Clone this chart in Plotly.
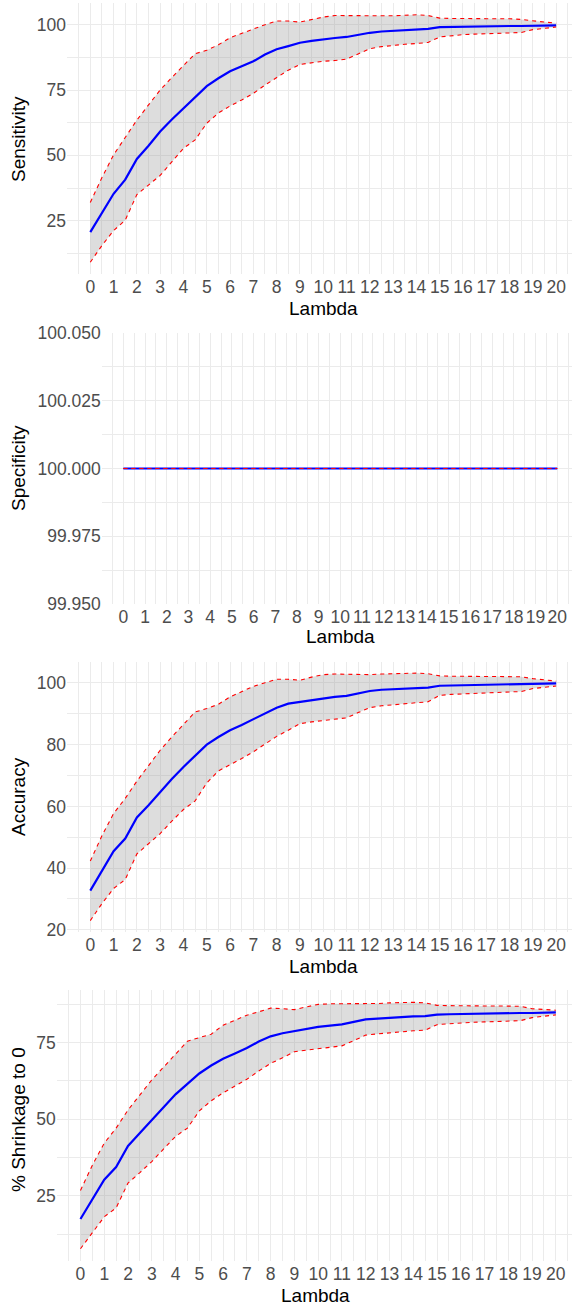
import plotly.graph_objects as go

W, H = 572, 1307

lam = [i * 0.5 for i in range(41)]

sens_mean = [20.6, 28.0, 35.3, 40.7, 48.6, 53.7, 59.1, 63.7, 68.0, 72.2, 76.5, 79.5, 82.2, 84.1, 86.0, 88.6,
             90.6, 91.8, 93.1, 93.8, 94.4, 94.9, 95.3, 96.1, 96.9, 97.4, 97.7, 98.0, 98.2, 98.4, 99.1, 99.2,
             99.3, 99.4, 99.5, 99.5, 99.5, 99.5, 99.6, 99.7, 99.7]
sens_upper = [32.0, 41.5, 50.2, 56.6, 63.5, 69.3, 75.0, 79.8, 84.5, 88.9, 90.2, 92.3, 95.0, 96.7, 98.5, 100.0,
              101.4, 101.4, 101.0, 102.0, 102.9, 103.5, 103.5, 103.4, 103.3, 103.4, 103.4, 103.6, 103.8, 103.5,
              102.5, 102.4, 102.3, 102.3, 102.3, 102.3, 102.3, 102.0, 101.4, 101.0, 100.6]
sens_lower = [9.1, 15.5, 21.2, 25.2, 35.0, 38.5, 42.3, 47.5, 52.7, 55.9, 62.3, 66.2, 68.9, 71.2, 73.7, 76.9,
              79.8, 82.6, 84.8, 85.5, 86.0, 86.3, 86.8, 88.8, 90.8, 91.6, 92.1, 92.5, 92.8, 93.2, 95.3, 95.8,
              96.2, 96.4, 96.6, 96.7, 96.8, 97.0, 98.1, 98.6, 99.1]

spec_mean = [100.0] * 41
spec_upper = [100.0] * 41
spec_lower = [100.0] * 41

acc_mean = [32.7, 39.3, 45.5, 49.6, 56.4, 60.4, 64.7, 68.9, 72.8, 76.3, 80.0, 82.5, 84.7, 86.4, 88.2, 90.2,
            92.0, 93.3, 93.9, 94.5, 95.1, 95.5, 95.8, 96.6, 97.4, 97.8, 98.0, 98.2, 98.4, 98.5, 99.1, 99.2,
            99.3, 99.4, 99.5, 99.5, 99.6, 99.6, 99.7, 99.8, 99.9]
acc_upper = [42.3, 50.5, 57.7, 62.6, 68.2, 73.4, 78.2, 82.5, 86.6, 90.6, 91.7, 93.1, 95.5, 97.2, 98.9, 100.1,
             101.2, 101.2, 100.9, 101.9, 102.7, 102.9, 102.8, 102.7, 102.7, 102.9, 103.0, 103.1, 103.2, 103.0,
             102.3, 102.2, 102.1, 102.1, 102.1, 102.1, 102.1, 102.0, 101.4, 101.0, 100.6]
acc_lower = [23.0, 28.5, 33.4, 36.3, 44.6, 47.8, 51.2, 55.2, 59.0, 61.8, 67.6, 71.5, 73.4, 75.5, 77.7, 80.3,
             82.7, 84.7, 86.8, 87.4, 87.9, 88.2, 88.7, 90.4, 92.0, 92.6, 93.0, 93.3, 93.6, 93.9, 96.0, 96.3,
             96.5, 96.7, 96.9, 97.0, 97.1, 97.2, 98.2, 98.6, 99.0]

shr_mean = [17.5, 24.0, 30.3, 34.4, 41.3, 45.5, 49.8, 54.0, 58.1, 61.5, 64.9, 67.5, 69.7, 71.4, 73.2, 75.3,
            77.0, 78.0, 78.7, 79.5, 80.1, 80.5, 80.9, 81.7, 82.5, 82.8, 83.1, 83.3, 83.5, 83.6, 84.1, 84.2,
            84.3, 84.4, 84.4, 84.5, 84.5, 84.6, 84.6, 84.7, 84.8]
shr_upper = [26.8, 35.0, 42.2, 47.1, 53.0, 58.0, 62.8, 67.0, 71.1, 75.4, 76.6, 77.7, 80.6, 82.2, 83.9, 85.0,
             86.2, 86.0, 85.7, 86.6, 87.4, 87.6, 87.6, 87.6, 87.6, 87.7, 87.9, 88.0, 88.1, 87.9, 87.1, 87.0,
             86.9, 86.9, 86.9, 86.9, 86.9, 86.8, 86.0, 85.7, 85.5]
shr_lower = [7.8, 13.2, 18.2, 21.1, 29.2, 32.6, 36.2, 40.3, 44.4, 47.1, 52.7, 56.0, 58.6, 60.8, 63.0, 65.7,
             68.2, 70.0, 72.0, 72.5, 73.0, 73.4, 73.9, 75.6, 77.4, 77.8, 78.2, 78.5, 78.8, 79.0, 80.8, 81.1,
             81.4, 81.6, 81.7, 81.9, 82.0, 82.1, 83.1, 83.6, 84.0]

x_ticks = list(range(21))
x_ticktext = [str(v) for v in x_ticks]

panels = [
    dict(name="Sensitivity", mean=sens_mean, up=sens_upper, lo=sens_lower,
         top=3, bot=274, left=67, yr=[4.6, 108.3], ytv=[25, 50, 75, 100], ytt=["25", "50", "75", "100"],
         ydt=12.5, y0=0, title_x=18, title_y=139, lam_y=308, lam_x=323),
    dict(name="Specificity", mean=spec_mean, up=spec_upper, lo=spec_lower,
         top=333, bot=604, left=101.7, yr=[99.95, 100.05],
         ytv=[99.95, 99.975, 100.0, 100.025, 100.05],
         ytt=["99.950", "99.975", "100.000", "100.025", "100.050"],
         ydt=0.0125, y0=99.95, title_x=18, title_y=468, lam_y=636, lam_x=340),
    dict(name="Accuracy", mean=acc_mean, up=acc_upper, lo=acc_lower,
         top=662, bot=932, left=67, yr=[19.3, 106.8], ytv=[20, 40, 60, 80, 100],
         ytt=["20", "40", "60", "80", "100"],
         ydt=10, y0=0, title_x=18, title_y=797, lam_y=966, lam_x=323),
    dict(name="% Shrinkage to 0", mean=shr_mean, up=shr_upper, lo=shr_lower,
         top=990, bot=1261, left=56.7, yr=[3.8, 92.1], ytv=[25, 50, 75], ytt=["25", "50", "75"],
         ydt=12.5, y0=0, title_x=18, title_y=1120, lam_y=1295, lam_x=316),
]

fig = go.Figure()
annotations = []
GRID = "#EBEBEB"
TICKC = "#4D4D4D"
FONT = "Liberation Sans, Arial, sans-serif"
X_MAX = 20.68

for i, p in enumerate(panels):
    n = "" if i == 0 else str(i + 1)
    xa, ya = "x" + n, "y" + n
    fig.add_trace(go.Scatter(x=lam, y=p["lo"], mode="lines", line=dict(width=0, color="rgba(0,0,0,0)"),
                             xaxis=xa, yaxis=ya, showlegend=False, hoverinfo="skip"))
    fig.add_trace(go.Scatter(x=lam, y=p["up"], mode="lines", line=dict(width=0, color="rgba(0,0,0,0)"),
                             fill="tonexty", fillcolor="rgba(150,150,150,0.32)",
                             xaxis=xa, yaxis=ya, showlegend=False, hoverinfo="skip"))
    fig.add_trace(go.Scatter(x=lam, y=p["mean"], mode="lines", line=dict(color="#0000FF", width=2.2),
                             xaxis=xa, yaxis=ya, showlegend=False))
    for b in (p["up"], p["lo"]):
        fig.add_trace(go.Scatter(x=lam, y=b, mode="lines",
                                 line=dict(color="#FF0000", width=1.1, dash="4px,4px"),
                                 xaxis=xa, yaxis=ya, showlegend=False))
    ydom = [1 - p["bot"] / H, 1 - p["top"] / H]
    xdom = [p["left"] / W, 1.0]
    fig.layout["xaxis" + n] = dict(
        domain=xdom, anchor=ya, range=[-1, X_MAX], automargin=False,
        tickmode="array", tickvals=x_ticks, ticktext=x_ticktext,
        showgrid=True, gridcolor=GRID, gridwidth=1.1,
        minor=dict(dtick=0.5, tick0=0, showgrid=True, gridcolor=GRID, gridwidth=0.55),
        zeroline=False, showline=False, ticks="",
        tickfont=dict(family=FONT, size=17.5, color=TICKC), fixedrange=True,
    )
    fig.layout["yaxis" + n] = dict(
        domain=ydom, anchor=xa, range=p["yr"], automargin=False,
        tickmode="array", tickvals=p["ytv"], ticktext=p["ytt"],
        showgrid=True, gridcolor=GRID, gridwidth=1.1,
        minor=dict(dtick=p["ydt"], tick0=p["y0"], showgrid=True, gridcolor=GRID, gridwidth=0.55),
        zeroline=False, showline=False, ticks="",
        tickfont=dict(family=FONT, size=17.5, color=TICKC), fixedrange=True,
    )
    annotations.append(dict(text=p["name"], x=p["title_x"] / W, y=1 - p["title_y"] / H,
                            xref="paper", yref="paper", showarrow=False, textangle=-90,
                            xanchor="center", yanchor="middle",
                            font=dict(family=FONT, size=19, color="#000000")))
    annotations.append(dict(text="Lambda", x=p["lam_x"] / W, y=1 - p["lam_y"] / H,
                            xref="paper", yref="paper", showarrow=False,
                            xanchor="center", yanchor="middle",
                            font=dict(family=FONT, size=19, color="#000000")))

fig.update_layout(width=W, height=H, margin=dict(l=0, r=0, t=0, b=0, autoexpand=False),
                  paper_bgcolor="white", plot_bgcolor="white",
                  annotations=annotations, showlegend=False)

fig.write_html("out.html", config={"displayModeBar": False})
